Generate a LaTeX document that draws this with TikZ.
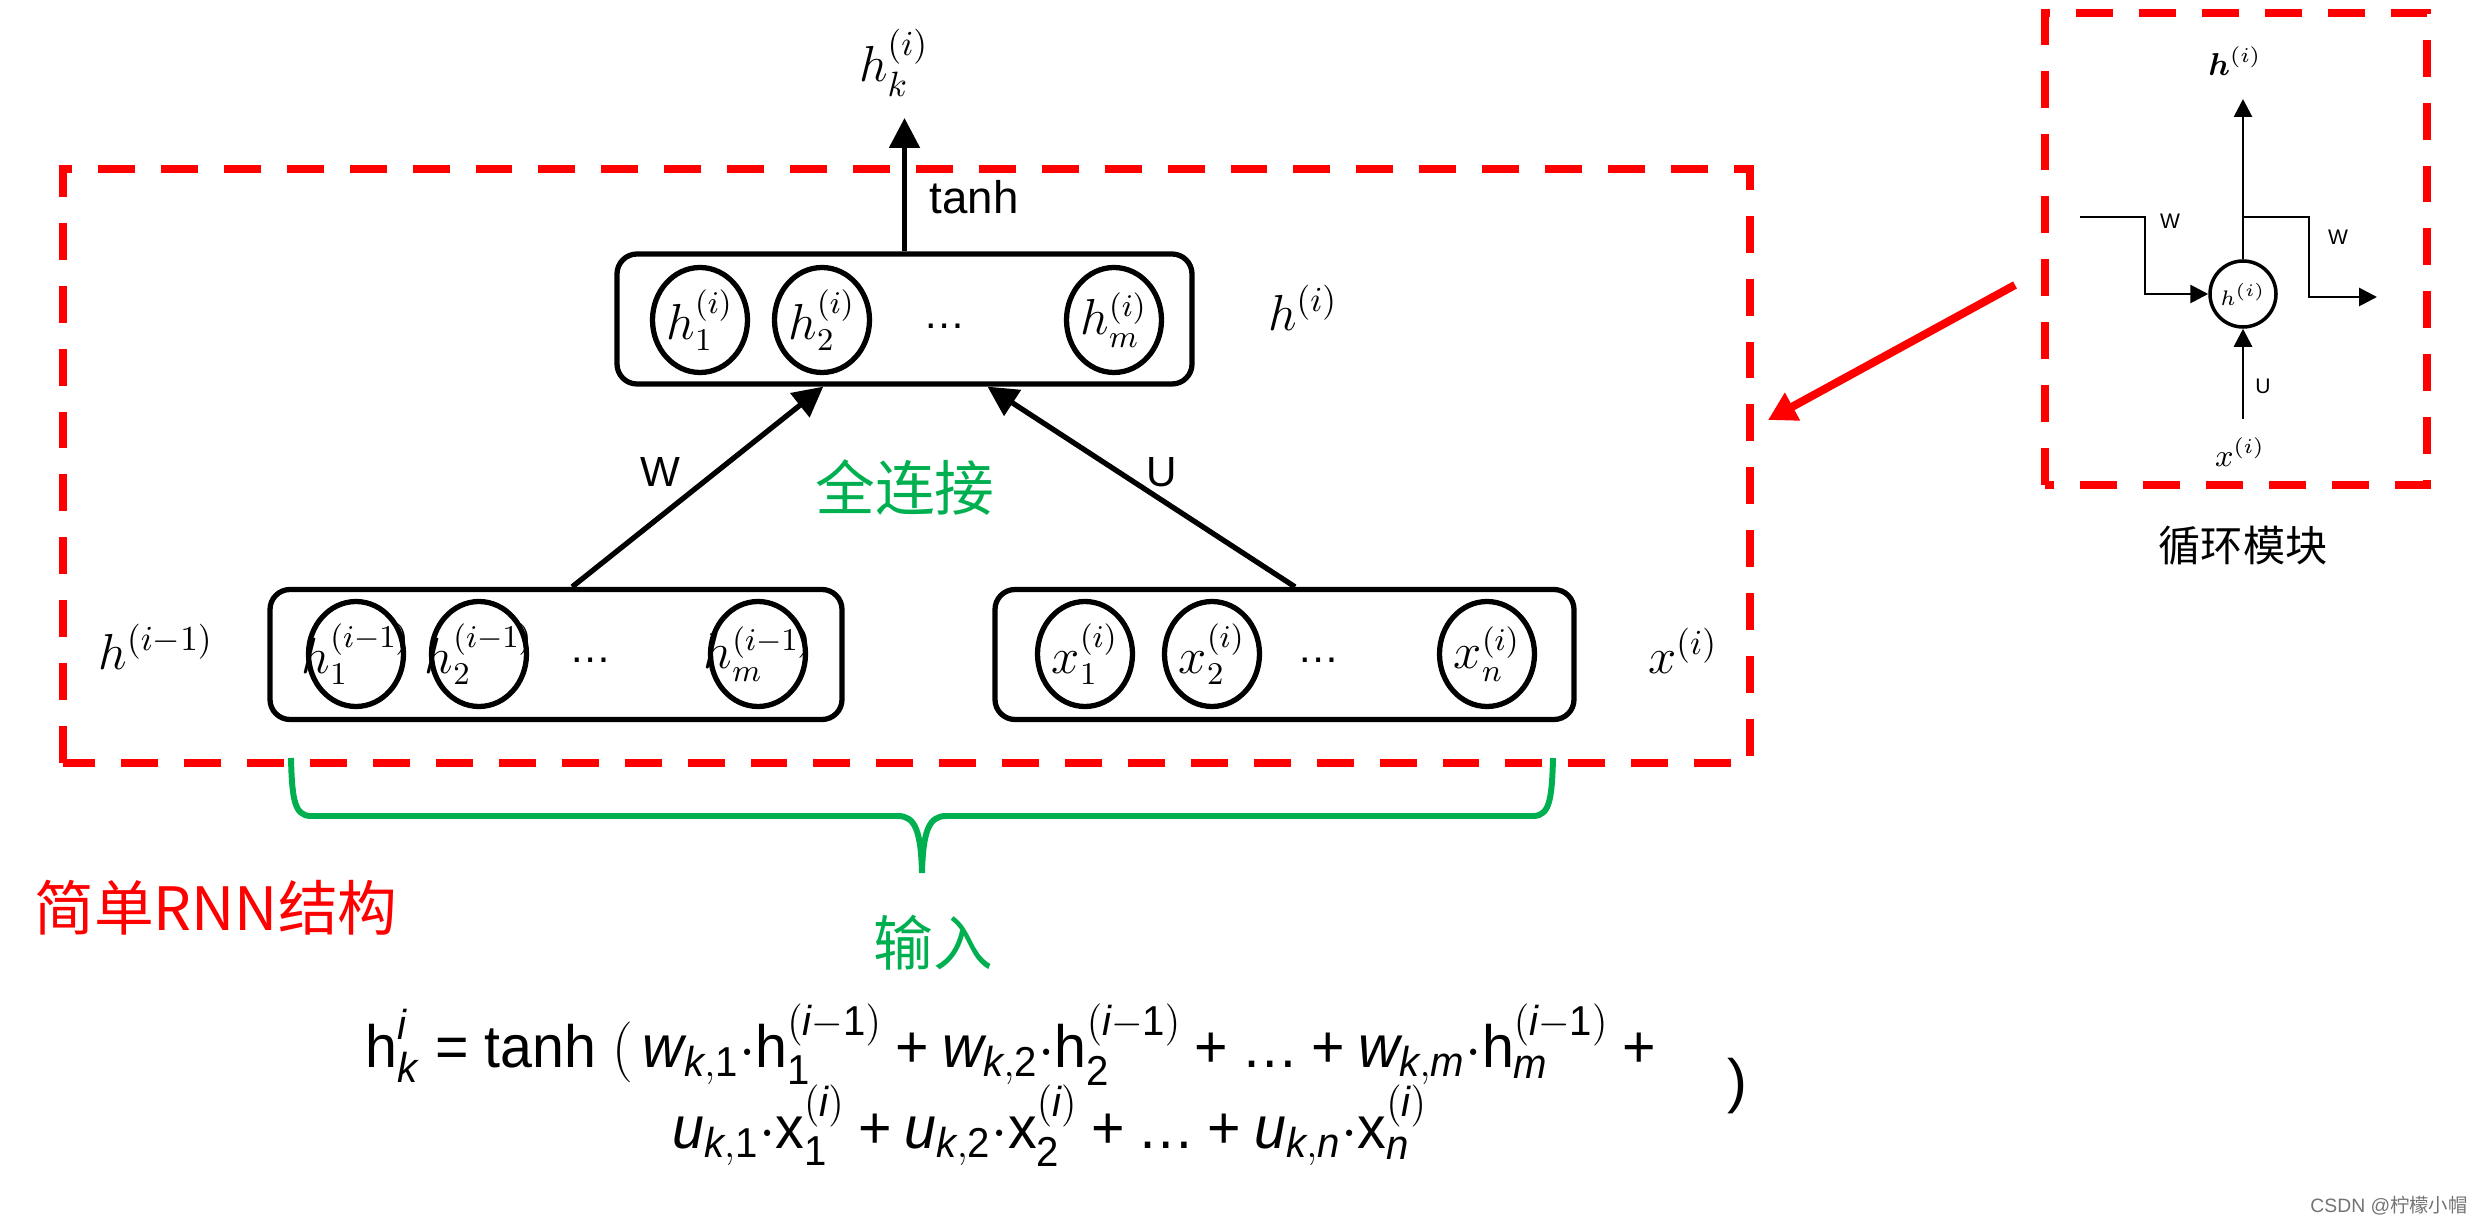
\documentclass[tikz,border=0pt]{standalone}
\usepackage{amsmath}
\usepackage{graphicx}
\usepackage{fontspec}
\setsansfont{Liberation Sans}
\newfontfamily\cjk{Noto Sans CJK SC}
\usepackage{tikz}
\usetikzlibrary{arrows.meta,calc,positioning,shapes.geometric}
\definecolor{dashred}{RGB}{255,0,0}
\definecolor{bracegreen}{RGB}{0,176,80}
\def\eqv#1{\text{\itshape #1}}
\def\equp#1{\text{#1}}
\def\eqplus{\mathbin{\text{+}}}
\def\eqis{\mathrel{\text{=}}}

\begin{document}
\begin{tikzpicture}[
		layerbox/.style={draw, line width=1.5pt, rounded corners=0.2cm, minimum width=5.75cm, minimum height=1.3cm, inner sep=0pt},
		neuron/.style={draw, ellipse, line width=1.5pt, minimum width=0.95cm, minimum height=1.05cm, inner sep=0pt,
			label={[font=\fontsize{13.5}{15}\selectfont]center:#1}},
		wlink/.style={line width=1.5pt, -{Triangle[width=0.3cm,length=0.3cm]}},
		redbox/.style={draw=dashred, line width=2.3pt, dash pattern=on 10.5pt off 7.4pt},
		loopline/.style={line width=0.8pt, -{Triangle[width=0.18cm,length=0.18cm]}},
		tag/.style={font=\fontsize{14}{16}\selectfont},
		sanstag/.style={font=\sffamily\fontsize{12}{14}\selectfont},
		cjktag/.style={font=\cjk\fontsize{17}{20}\selectfont},
		eqline/.style={font=\sffamily\fontsize{17}{21.6}\selectfont, align=center}
	]
			%%%%% START %%%%%
			\useasboundingbox (0,0) rectangle (24.76,12.26);
			
			% top layer h^(i)
			\node[layerbox] (hbox) at (9.045,9.07) {};
			\node[neuron={$h_1^{(i)}$}] (h1) at (7.00,9.06) {};
			\node[neuron={$h_2^{(i)}$}] (h2) at (8.22,9.06) {};
			\node[sanstag] (hdots) at (9.45,9.00) {\dots};
			\node[neuron={$h_m^{(i)}$}] (hm) at (11.14,9.06) {};
			\node[tag] (hname) at (13.03,9.18) {$h^{(i)}$};
			
			% previous hidden layer
			\node[layerbox, minimum width=5.72cm] (pbox) at (5.56,5.715) {};
			\node[neuron={$h_1^{(i-1)}$}] (p1) at (3.56,5.72) {};
			\node[neuron={$h_2^{(i-1)}$}] (p2) at (4.79,5.72) {};
			\node[sanstag] (pdots) at (5.91,5.66) {\dots};
			\node[neuron={$h_m^{(i-1)}$}] (pm) at (7.58,5.72) {};
			\node[tag] (pname) at (1.56,5.79) {$h^{(i-1)}$};
			
			% input layer
			\node[layerbox, minimum width=5.79cm] (xbox) at (12.845,5.715) {};
			\node[neuron={$x_1^{(i)}$}] (x1) at (10.85,5.72) {};
			\node[neuron={$x_2^{(i)}$}] (x2) at (12.12,5.72) {};
			\node[sanstag] (xdots) at (13.19,5.66) {\dots};
			\node[neuron={$x_n^{(i)}$}] (xn) at (14.87,5.72) {};
			\node[tag] (xname) at (16.83,5.75) {$x^{(i)}$};
			
			% connections
			\draw[wlink] ($(pbox.north west)!0.528!(pbox.north east)$) -- ($(hbox.south west)!0.36!(hbox.south east)$);
			\draw[wlink] ($(xbox.north west)!0.518!(xbox.north east)$) -- ($(hbox.south west)!0.643!(hbox.south east)$);
			\node[sanstag] (wname) at (6.60,7.54) {W};
			\node[sanstag] (uname) at (11.62,7.54) {U};
			\node[cjktag, text=bracegreen] (full) at (9.05,7.38) {全连接};
			
			\coordinate (hout) at (9.045,11.08);
			\draw[wlink] (hbox.north) -- (hout);
			\node[tag] (hk) at (8.94,11.63) {$h_k^{(i)}$};
			\node[sanstag, font=\sffamily\fontsize{13}{15}\selectfont] (act) at (9.74,10.29) {tanh};
			
			\draw[redbox] (0.63,4.63) rectangle (17.50,10.57);
			
			% brace
			\draw[bracegreen, line width=1.7pt] (2.91,4.68) .. controls (2.92,4.25) and (2.95,4.11) .. (3.10,4.10)
				-- (8.98,4.10) .. controls (9.15,4.10) and (9.21,3.95) .. (9.22,3.53)
				.. controls (9.23,3.95) and (9.29,4.10) .. (9.46,4.10) -- (15.34,4.10)
				.. controls (15.49,4.11) and (15.52,4.25) .. (15.53,4.68);
			\node[cjktag, text=bracegreen] (input) at (9.33,2.83) {输入};
			\node[cjktag, text=dashred] (title) at (2.16,3.18) {简单RNN结构};
			
			% equation
			\node[eqline] (eq) at (10.17,1.41) {\scalebox{0.96}[1]{$\equp{h}^{\eqv{i}}_{\eqv{k}} \eqis \equp{tanh}\ (\,\eqv{w}_{\eqv{k},\equp{1}}{\cdot}\equp{h}^{(\eqv{i}-\equp{1})}_{\equp{1}} \eqplus \eqv{w}_{\eqv{k},\equp{2}}{\cdot}\equp{h}^{(\eqv{i}-\equp{1})}_{\equp{2}} \eqplus \equp{\dots} \eqplus \eqv{w}_{\eqv{k},\eqv{m}}{\cdot}\equp{h}^{(\eqv{i}-\equp{1})}_{\eqv{m}} \eqplus{}$}\\[-1pt]
				\hspace*{0.66cm}\scalebox{0.96}[1]{$\eqv{u}_{\eqv{k},\equp{1}}{\cdot}\equp{x}^{(\eqv{i})}_{\equp{1}} \eqplus \eqv{u}_{\eqv{k},\equp{2}}{\cdot}\equp{x}^{(\eqv{i})}_{\equp{2}} \eqplus \equp{\dots} \eqplus \eqv{u}_{\eqv{k},\eqv{n}}{\cdot}\equp{x}^{(\eqv{i})}_{\eqv{n}}$}};
			\node[eqline] (eqclose) at (17.37,1.40) {)};
			
			% recurrent module
			\draw[redbox] (20.45,7.41) rectangle (24.27,12.13);
			\node[draw, circle, line width=1pt, minimum size=0.66cm, inner sep=0pt, font=\fontsize{6}{7}\selectfont] (cell) at (22.43,9.32) {$h^{(i)}$};
			\coordinate (win) at (20.80,10.09);
			\coordinate (wout) at (23.77,9.29);
			\coordinate (hup) at (22.43,11.27);
			\coordinate (xin) at (22.43,8.07);
			\draw[loopline] (win) -- ++(0.65,0) |- (cell.west);
			\draw[loopline] (cell.north) -- (hup);
			\draw[loopline] (cell.north |- win) -- ++(0.66,0) |- (wout);
			\draw[loopline] (xin) -- (cell.south);
			\node[font=\sffamily\fontsize{6}{7}\selectfont] (wleft) at (21.70,10.05) {W};
			\node[font=\sffamily\fontsize{6}{7}\selectfont] (wright) at (23.38,9.89) {W};
			\node[font=\sffamily\fontsize{6}{7}\selectfont] (uin) at (22.63,8.40) {U};
			\node[font=\fontsize{9}{10}\selectfont] (celltop) at (22.35,11.65) {$\boldsymbol{h}^{(i)}$};
			\node[font=\fontsize{9}{10}\selectfont] (cellbot) at (22.40,7.74) {$x^{(i)}$};
			\node[font=\cjk\fontsize{12}{14}\selectfont] (module) at (22.43,6.80) {循环模块};
			
			\coordinate (from) at (20.15,9.41);
			\coordinate (to) at (17.68,8.06);
			\draw[dashred, line width=2.3pt, -{Triangle[width=0.3cm,length=0.28cm]}] (from) -- (to);
			
			\node[font=\sffamily\fontsize{5.5}{6}\selectfont, text=black!55] (mark) at (23.89,0.20) {CSDN @{\cjk 柠檬小帽}};
			%%%%% END %%%%%
\end{tikzpicture}
\end{document}
